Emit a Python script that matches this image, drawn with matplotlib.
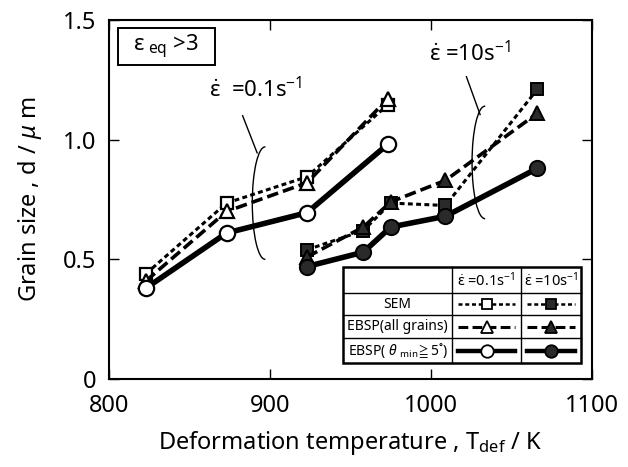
import matplotlib
matplotlib.use('Agg')
import matplotlib.pyplot as plt
from matplotlib.patches import Arc, Rectangle
from matplotlib.lines import Line2D

plt.rcParams['font.family'] = ['Noto Sans', 'DejaVu Sans']
plt.rcParams['mathtext.fontset'] = 'custom'
plt.rcParams['mathtext.rm'] = 'Noto Sans'
plt.rcParams['mathtext.it'] = 'Noto Sans:italic'
plt.rcParams['mathtext.fallback'] = 'stixsans'

# strain rate 0.1 s^-1
temp_slow = [823, 873, 923, 973]
sem_slow = [0.44, 0.735, 0.845, 1.145]
ebsp_all_slow = [0.41, 0.70, 0.82, 1.17]
ebsp_hagb_slow = [0.38, 0.61, 0.695, 0.98]

# strain rate 10 s^-1
temp_fast = [923, 958, 975, 1009, 1066]
sem_fast = [0.54, 0.62, 0.735, 0.725, 1.21]
ebsp_all_fast = [0.51, 0.635, 0.74, 0.83, 1.11]
ebsp_hagb_fast = [0.47, 0.53, 0.635, 0.68, 0.88]

x_ticks = [800, 900, 1000, 1100]
y_ticks = [0, 0.5, 1.0, 1.5]
y_tick_labels = ['0', '0.5', '1.0', '1.5']

EPS = r'\mathrm{\varepsilon}'

W, H = 628, 467
fig = plt.figure(figsize=(W / 100, H / 100), dpi=100)
ax = fig.add_axes([109 / W, 88 / H, 483 / W, 359 / H])
ax.set_xlim(800, 1100)
ax.set_ylim(0, 1.5)

dot_dash = (0, (1.6, 1.1))
long_dash = (0, (3.2, 1.4))
fill_dark = '#2a2a2a'

styles = {
    'sem': dict(ls=dot_dash, lw=2.2, marker='s', ms=9),
    'all': dict(ls=long_dash, lw=2.6, marker='^', ms=10),
    'hagb': dict(ls='-', lw=4.0, marker='o', ms=11),
}

for key, ys in [('sem', sem_slow), ('all', ebsp_all_slow), ('hagb', ebsp_hagb_slow)]:
    ax.plot(temp_slow, ys, color='k', mfc='white', mec='k', mew=1.6,
            zorder=3, **styles[key])
for key, ys in [('sem', sem_fast), ('all', ebsp_all_fast), ('hagb', ebsp_hagb_fast)]:
    ax.plot(temp_fast, ys, color='k', mfc=fill_dark, mec='k', mew=1.4,
            zorder=3, **styles[key])

ax.set_xticks(x_ticks)
ax.set_yticks(y_ticks)
ax.set_yticklabels(y_tick_labels)
ax.tick_params(direction='in', length=7, width=1, top=True, right=True,
               labelsize=17, pad=9)
ax.tick_params(axis='x', pad=11)
for s in ax.spines.values():
    s.set_linewidth(1.5)

ax.set_xlabel(r'Deformation temperature , T$_{\mathrm{def}}$ / K', fontsize=17, labelpad=8)
ax.set_ylabel(r'Grain size , d / $\mu$ m', fontsize=17, labelpad=14)

# bracket arcs and leader lines
ax.add_patch(Arc((897, 0.735), 16, 0.47, theta1=55, theta2=300, color='k', lw=1.0))
ax.plot([883, 892], [1.10, 0.945], color='k', lw=1.0)
ax.add_patch(Arc((1033.5, 0.905), 16, 0.47, theta1=50, theta2=305, color='k', lw=1.0))
ax.plot([1022, 1030.5], [1.263, 1.105], color='k', lw=1.0)

ax.text(891, 1.21, r'$\dot{%s}$  =0.1s$^{-1}$' % EPS, fontsize=16, ha='center', va='center')
ax.text(1024, 1.36, r'$\dot{%s}$ =10s$^{-1}$' % EPS, fontsize=16, ha='center', va='center')

# strain box
ax.add_patch(Rectangle((0.019, 0.875), 0.2, 0.103, transform=ax.transAxes,
                       fill=False, lw=1.4, color='k'))
ax.text(0.118, 0.925, r'$%s_{\ \mathrm{eq}}$ >3' % EPS, transform=ax.transAxes,
        fontsize=16, ha='center', va='center')

# legend table drawn in pixel space
ov = fig.add_axes([0, 0, 1, 1])
ov.set_xlim(0, W)
ov.set_ylim(H, 0)
ov.axis('off')
cols = [343, 452, 521, 581]
rows = [267, 293, 315, 338, 363]
ov.add_patch(Rectangle((cols[0], rows[0]), cols[-1] - cols[0], rows[-1] - rows[0],
                       facecolor='white', edgecolor='k', lw=1.8, zorder=1))
for c in cols[1:-1]:
    ov.add_line(Line2D([c, c], [rows[0], rows[-1]], color='k', lw=1.0, zorder=2))
for r in rows[1:-1]:
    ov.add_line(Line2D([cols[0], cols[-1]], [r, r], color='k', lw=1.0, zorder=2))

ov.text((cols[1] + cols[2]) / 2, (rows[0] + rows[1]) / 2 + 1, r'$\dot{%s}$ =0.1s$^{-1}$' % EPS,
        fontsize=10.5, ha='center', va='center')
ov.text((cols[2] + cols[3]) / 2, (rows[0] + rows[1]) / 2 + 1, r'$\dot{%s}$ =10s$^{-1}$' % EPS,
        fontsize=10.5, ha='center', va='center')

row_labels = ['SEM', 'EBSP(all grains)', r'EBSP( $\theta$ $_{\mathrm{min}}\!\geqq$5˚)']
leg_styles = [
    dict(ls=dot_dash, lw=1.8, marker='s', ms=7),
    dict(ls=long_dash, lw=2.2, marker='^', ms=8),
    dict(ls='-', lw=3.2, marker='o', ms=9),
]
for i, (lab, st) in enumerate(zip(row_labels, leg_styles)):
    yc = (rows[i + 1] + rows[i + 2]) / 2
    ov.text((cols[0] + cols[1]) / 2, yc, lab, fontsize=10, ha='center', va='center')
    for j, fc in enumerate(['white', fill_dark]):
        x0, x1 = cols[j + 1] + 6, cols[j + 2] - 6
        ov.plot([x0, x1], [yc, yc], color='k', zorder=3, ls=st['ls'], lw=st['lw'])
        ov.plot([(x0 + x1) / 2], [yc], color='k', marker=st['marker'], ms=st['ms'],
                mfc=fc, mec='k', mew=1.3, ls='none', zorder=4)

fig.savefig('out.png', dpi=100, facecolor='white')
